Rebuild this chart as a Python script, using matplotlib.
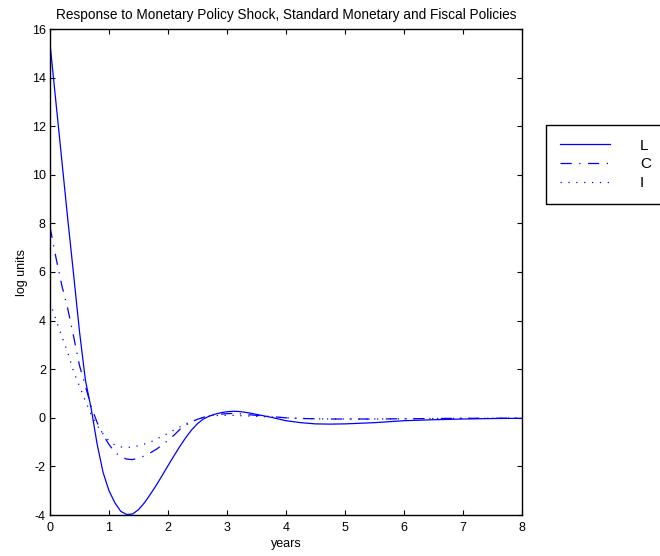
import numpy as np
import matplotlib
matplotlib.use("Agg")
import matplotlib.pyplot as plt

plt.rcParams['font.family'] = ['Liberation Sans', 'DejaVu Sans']
plt.rcParams['axes.unicode_minus'] = False

# time axis in years
years = [0.0, 0.1, 0.2, 0.3, 0.4, 0.5, 0.6, 0.7, 0.8, 0.9,
         1.0, 1.1, 1.2, 1.3, 1.4, 1.5, 1.6, 1.7, 1.8, 1.9,
         2.0, 2.1, 2.2, 2.3, 2.4, 2.5, 2.6, 2.7, 2.8, 2.9,
         3.0, 3.1, 3.2, 3.3, 3.4, 3.5,
         3.75, 4.0, 4.25, 4.5, 4.75, 5.0, 5.5, 6.0, 6.5, 7.0, 7.5, 8.0]

# impulse responses (log units)
resp_L = [15.4, 13.0, 10.6, 8.2, 5.9, 3.55, 1.55, 0.35, -1.1, -2.25,
          -3.0, -3.5, -3.85, -3.98, -3.96, -3.78, -3.5, -3.15, -2.78, -2.38,
          -1.97, -1.57, -1.18, -0.82, -0.5, -0.24, -0.05, 0.07, 0.15, 0.21,
          0.25, 0.27, 0.26, 0.23, 0.19, 0.14,
          0.02, -0.12, -0.2, -0.25, -0.26, -0.25, -0.2, -0.12, -0.08, -0.05, -0.03, -0.02]
resp_C = [7.86, 6.6, 5.45, 4.5, 3.35, 2.15, 1.3, 0.45, -0.2, -0.7,
          -1.1, -1.42, -1.6, -1.7, -1.72, -1.66, -1.57, -1.44, -1.3, -1.12,
          -0.93, -0.72, -0.48, -0.3, -0.17, -0.06, 0.02, 0.08, 0.12, 0.15,
          0.17, 0.18, 0.17, 0.15, 0.12, 0.1,
          0.05, 0.0, -0.03, -0.04, -0.05, -0.05, -0.05, -0.04, -0.03, -0.02, -0.02, -0.01]
resp_I = [4.77, 4.05, 3.35, 2.7, 1.9, 1.3, 0.7, 0.12, -0.32, -0.66,
          -0.95, -1.12, -1.2, -1.22, -1.2, -1.15, -1.08, -1.0, -0.88, -0.76,
          -0.64, -0.5, -0.38, -0.25, -0.15, -0.06, 0.02, 0.07, 0.09, 0.1,
          0.1, 0.1, 0.09, 0.08, 0.07, 0.06,
          0.03, 0.0, -0.02, -0.04, -0.05, -0.05, -0.05, -0.04, -0.03, -0.02, -0.02, -0.01]

labels = ["L", "C", "I"]
x_ticks = [0, 1, 2, 3, 4, 5, 6, 7, 8]
y_ticks = [-4, -2, 0, 2, 4, 6, 8, 10, 12, 14, 16]

fig = plt.figure(figsize=(6.6, 5.56), dpi=100)
ax = fig.add_axes([50/660, 41/556, 472/660, 486/556])

blue = "#0000ff"
ax.plot(years, resp_L, color=blue, lw=0.9, linestyle="-", label=labels[0])
ax.plot(years, resp_C, color=blue, lw=0.9, dashes=[9, 6, 1, 6], label=labels[1])
ax.plot(years, resp_I, color=blue, lw=0.9, dashes=[1, 5.3], label=labels[2])

ax.set_xlim(0, 8)
ax.set_ylim(-4, 16)
ax.set_xticks(x_ticks)
ax.set_yticks(y_ticks)
ax.tick_params(direction="in", length=3.6, width=0.8, top=True, right=True,
               labelsize=9)
ax.tick_params(axis="x", pad=5)
ax.tick_params(axis="y", pad=3)
for sp in ax.spines.values():
    sp.set_linewidth(1.0)

ax.set_title("Response to Monetary Policy Shock, Standard Monetary and Fiscal Policies",
             fontsize=9.8, pad=7.5)
ax.set_xlabel("years", fontsize=9, labelpad=3)
ax.set_ylabel("log units", fontsize=9, labelpad=3)

leg = fig.legend(loc="upper left", bbox_to_anchor=(546/660, 1 - 125/556),
                 fontsize=11, handlelength=3.3, handletextpad=1.95,
                 borderpad=0.9, labelspacing=0.3, fancybox=False,
                 edgecolor="black", framealpha=1, borderaxespad=0)
leg.get_frame().set_linewidth(1.0)

fig.savefig("out.png", dpi=100)
